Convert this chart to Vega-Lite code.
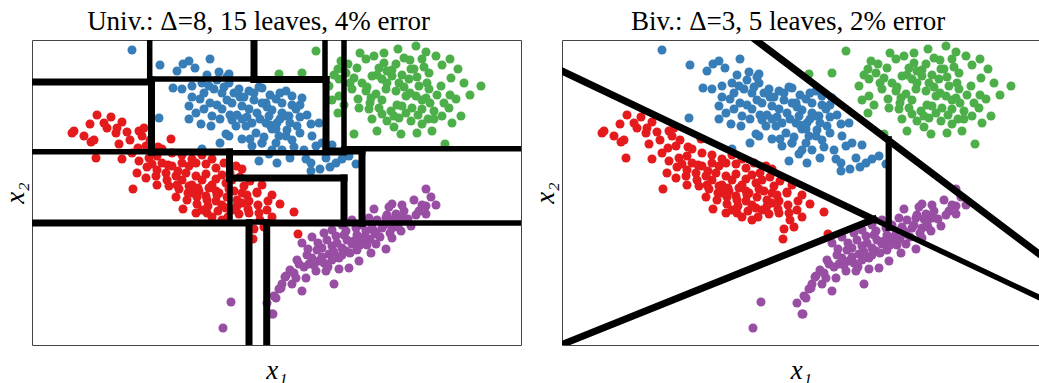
{
  "$schema": "https://vega.github.io/schema/vega-lite/v6.json",
  "padding": {"left": 0, "top": 7, "right": 0, "bottom": 0},
  "background": "white",
  "config": {
    "view": {"stroke": "#444444", "strokeWidth": 1},
    "font": "Liberation Serif",
    "axis": {"labels": false, "ticks": false, "grid": false, "domain": false, "titleFont": "Liberation Serif", "titleFontStyle": "italic", "titleFontWeight": "normal", "titleFontSize": 27, "titleColor": "black"},
    "axisX": {"titlePadding": 12},
    "axisY": {"titlePadding": 3},
    "concat": {"spacing": 8}
  },
  "datasets": {
    "pts": [
      {"cls":"blue","x1":100,"x2":295},{"cls":"blue","x1":128,"x2":280},{"cls":"blue","x1":145,"x2":274},{"cls":"blue","x1":151,"x2":281},{"cls":"blue","x1":157,"x2":284},{"cls":"blue","x1":163,"x2":277},{"cls":"blue","x1":178,"x2":286},{"cls":"blue","x1":187,"x2":273},{"cls":"blue","x1":197,"x2":271},{"cls":"blue","x1":141,"x2":257},{"cls":"blue","x1":150,"x2":256},{"cls":"blue","x1":160,"x2":259},{"cls":"blue","x1":170,"x2":262},{"cls":"blue","x1":177,"x2":259},{"cls":"blue","x1":182,"x2":256},{"cls":"blue","x1":190,"x2":252},{"cls":"blue","x1":197,"x2":262},{"cls":"blue","x1":207,"x2":256},{"cls":"blue","x1":217,"x2":254},{"cls":"blue","x1":227,"x2":258},{"cls":"blue","x1":157,"x2":239},{"cls":"blue","x1":164,"x2":232},{"cls":"blue","x1":172,"x2":236},{"cls":"blue","x1":180,"x2":229},{"cls":"blue","x1":190,"x2":236},{"cls":"blue","x1":200,"x2":242},{"cls":"blue","x1":210,"x2":239},{"cls":"blue","x1":217,"x2":236},{"cls":"blue","x1":230,"x2":242},{"cls":"blue","x1":244,"x2":246},{"cls":"blue","x1":250,"x2":242},{"cls":"blue","x1":157,"x2":226},{"cls":"blue","x1":169,"x2":221},{"cls":"blue","x1":179,"x2":219},{"cls":"blue","x1":194,"x2":211},{"cls":"blue","x1":204,"x2":219},{"cls":"blue","x1":214,"x2":219},{"cls":"blue","x1":224,"x2":212},{"cls":"blue","x1":234,"x2":222},{"cls":"blue","x1":244,"x2":216},{"cls":"blue","x1":254,"x2":229},{"cls":"blue","x1":188,"x2":202},{"cls":"blue","x1":197,"x2":209},{"cls":"blue","x1":210,"x2":206},{"cls":"blue","x1":220,"x2":199},{"cls":"blue","x1":230,"x2":202},{"cls":"blue","x1":244,"x2":202},{"cls":"blue","x1":254,"x2":209},{"cls":"blue","x1":127,"x2":227},{"cls":"blue","x1":170,"x2":196},{"cls":"blue","x1":237,"x2":191},{"cls":"blue","x1":227,"x2":184},{"cls":"blue","x1":245,"x2":182},{"cls":"blue","x1":230,"x2":257},{"cls":"blue","x1":254,"x2":254},{"cls":"blue","x1":270,"x2":247},{"cls":"blue","x1":264,"x2":236},{"cls":"blue","x1":234,"x2":242},{"cls":"blue","x1":237,"x2":229},{"cls":"blue","x1":250,"x2":232},{"cls":"blue","x1":257,"x2":229},{"cls":"blue","x1":279,"x2":221},{"cls":"blue","x1":265,"x2":219},{"cls":"blue","x1":240,"x2":216},{"cls":"blue","x1":247,"x2":209},{"cls":"blue","x1":280,"x2":209},{"cls":"blue","x1":287,"x2":222},{"cls":"blue","x1":230,"x2":202},{"cls":"blue","x1":284,"x2":199},{"cls":"blue","x1":290,"x2":202},{"cls":"blue","x1":258,"x2":187},{"cls":"blue","x1":274,"x2":186},{"cls":"blue","x1":279,"x2":182},{"cls":"blue","x1":294,"x2":187},{"cls":"blue","x1":304,"x2":182},{"cls":"blue","x1":317,"x2":189},{"cls":"blue","x1":279,"x2":174},{"cls":"blue","x1":324,"x2":181},{"cls":"blue","x1":200,"x2":225},{"cls":"blue","x1":215,"x2":228},{"cls":"blue","x1":225,"x2":232},{"cls":"blue","x1":235,"x2":238},{"cls":"blue","x1":222,"x2":245},{"cls":"blue","x1":208,"x2":248},{"cls":"blue","x1":245,"x2":222},{"cls":"blue","x1":232,"x2":208},{"cls":"blue","x1":218,"x2":206},{"cls":"blue","x1":205,"x2":230},{"cls":"blue","x1":240,"x2":235},{"cls":"blue","x1":255,"x2":215},{"cls":"blue","x1":195,"x2":245},{"cls":"blue","x1":185,"x2":240},{"cls":"blue","x1":260,"x2":240},
      {"cls":"blue","x1":192,"x2":258},{"cls":"blue","x1":202,"x2":252},{"cls":"blue","x1":212,"x2":248},{"cls":"blue","x1":222,"x2":252},{"cls":"blue","x1":238,"x2":250},{"cls":"blue","x1":248,"x2":252},{"cls":"blue","x1":260,"x2":249},{"cls":"blue","x1":268,"x2":240},{"cls":"blue","x1":275,"x2":230},{"cls":"blue","x1":268,"x2":228},{"cls":"blue","x1":258,"x2":222},{"cls":"blue","x1":248,"x2":226},{"cls":"blue","x1":238,"x2":220},{"cls":"blue","x1":228,"x2":226},{"cls":"blue","x1":220,"x2":222},{"cls":"blue","x1":210,"x2":226},{"cls":"blue","x1":198,"x2":230},{"cls":"blue","x1":188,"x2":226},{"cls":"blue","x1":178,"x2":242},{"cls":"blue","x1":168,"x2":246},{"cls":"blue","x1":160,"x2":248},{"cls":"blue","x1":172,"x2":252},{"cls":"blue","x1":185,"x2":265},{"cls":"blue","x1":195,"x2":268},{"cls":"blue","x1":175,"x2":270},{"cls":"blue","x1":260,"x2":205},{"cls":"blue","x1":268,"x2":212},{"cls":"blue","x1":272,"x2":195},{"cls":"blue","x1":262,"x2":198},{"cls":"blue","x1":250,"x2":195},{"cls":"blue","x1":240,"x2":195},{"cls":"blue","x1":300,"x2":200},{"cls":"blue","x1":310,"x2":186},{"cls":"blue","x1":298,"x2":178},{"cls":"blue","x1":288,"x2":176},
      {"cls":"green","x1":284,"x2":294},{"cls":"green","x1":384,"x2":299},{"cls":"green","x1":309,"x2":284},{"cls":"green","x1":325,"x2":277},{"cls":"green","x1":334,"x2":286},{"cls":"green","x1":342,"x2":289},{"cls":"green","x1":347,"x2":277},{"cls":"green","x1":355,"x2":274},{"cls":"green","x1":364,"x2":281},{"cls":"green","x1":372,"x2":287},{"cls":"green","x1":379,"x2":276},{"cls":"green","x1":390,"x2":286},{"cls":"green","x1":404,"x2":289},{"cls":"green","x1":418,"x2":286},{"cls":"green","x1":397,"x2":272},{"cls":"green","x1":409,"x2":259},{"cls":"green","x1":419,"x2":267},{"cls":"green","x1":449,"x2":259},{"cls":"green","x1":314,"x2":272},{"cls":"green","x1":307,"x2":266},{"cls":"green","x1":322,"x2":267},{"cls":"green","x1":330,"x2":262},{"cls":"green","x1":340,"x2":269},{"cls":"green","x1":350,"x2":266},{"cls":"green","x1":360,"x2":269},{"cls":"green","x1":367,"x2":262},{"cls":"green","x1":377,"x2":266},{"cls":"green","x1":387,"x2":259},{"cls":"green","x1":397,"x2":256},{"cls":"green","x1":320,"x2":256},{"cls":"green","x1":334,"x2":254},{"cls":"green","x1":344,"x2":251},{"cls":"green","x1":354,"x2":256},{"cls":"green","x1":364,"x2":254},{"cls":"green","x1":374,"x2":249},{"cls":"green","x1":384,"x2":249},{"cls":"green","x1":394,"x2":247},{"cls":"green","x1":307,"x2":249},{"cls":"green","x1":297,"x2":259},{"cls":"green","x1":339,"x2":247},{"cls":"green","x1":424,"x2":246},{"cls":"green","x1":327,"x2":237},{"cls":"green","x1":337,"x2":236},{"cls":"green","x1":347,"x2":237},{"cls":"green","x1":359,"x2":234},{"cls":"green","x1":370,"x2":239},{"cls":"green","x1":380,"x2":237},{"cls":"green","x1":390,"x2":236},{"cls":"green","x1":402,"x2":234},{"cls":"green","x1":417,"x2":237},{"cls":"green","x1":429,"x2":229},{"cls":"green","x1":340,"x2":226},{"cls":"green","x1":355,"x2":224},{"cls":"green","x1":367,"x2":227},{"cls":"green","x1":379,"x2":224},{"cls":"green","x1":390,"x2":221},{"cls":"green","x1":402,"x2":226},{"cls":"green","x1":410,"x2":229},{"cls":"green","x1":306,"x2":232},{"cls":"green","x1":322,"x2":211},{"cls":"green","x1":369,"x2":211},{"cls":"green","x1":385,"x2":212},{"cls":"green","x1":400,"x2":214},{"cls":"green","x1":413,"x2":201},{"cls":"green","x1":247,"x2":271},{"cls":"green","x1":270,"x2":272},{"cls":"green","x1":306,"x2":276},{"cls":"green","x1":345,"x2":270},{"cls":"green","x1":360,"x2":275},{"cls":"green","x1":372,"x2":258},{"cls":"green","x1":385,"x2":268},{"cls":"green","x1":395,"x2":262},{"cls":"green","x1":350,"x2":245},{"cls":"green","x1":365,"x2":240},{"cls":"green","x1":378,"x2":252},{"cls":"green","x1":390,"x2":245},{"cls":"green","x1":405,"x2":250},{"cls":"green","x1":335,"x2":258},{"cls":"green","x1":355,"x2":262},
      {"cls":"green","x1":316,"x2":281},{"cls":"green","x1":328,"x2":292},{"cls":"green","x1":352,"x2":292},{"cls":"green","x1":366,"x2":296},{"cls":"green","x1":394,"x2":293},{"cls":"green","x1":410,"x2":280},{"cls":"green","x1":426,"x2":276},{"cls":"green","x1":432,"x2":262},{"cls":"green","x1":438,"x2":250},{"cls":"green","x1":418,"x2":250},{"cls":"green","x1":412,"x2":242},{"cls":"green","x1":398,"x2":242},{"cls":"green","x1":386,"x2":230},{"cls":"green","x1":374,"x2":232},{"cls":"green","x1":362,"x2":229},{"cls":"green","x1":350,"x2":231},{"cls":"green","x1":338,"x2":242},{"cls":"green","x1":326,"x2":246},{"cls":"green","x1":318,"x2":262},{"cls":"green","x1":312,"x2":240},{"cls":"green","x1":300,"x2":245},{"cls":"green","x1":302,"x2":270},{"cls":"green","x1":392,"x2":278},{"cls":"green","x1":378,"x2":285},{"cls":"green","x1":352,"x2":282},{"cls":"green","x1":370,"x2":270},{"cls":"green","x1":382,"x2":276},{"cls":"green","x1":420,"x2":222},{"cls":"green","x1":396,"x2":226},{"cls":"green","x1":362,"x2":218},{"cls":"green","x1":345,"x2":214},
      {"cls":"red","x1":65,"x2":230},{"cls":"red","x1":79,"x2":228},{"cls":"red","x1":90,"x2":223},{"cls":"red","x1":58,"x2":221},{"cls":"red","x1":75,"x2":217},{"cls":"red","x1":85,"x2":217},{"cls":"red","x1":84,"x2":212},{"cls":"red","x1":40,"x2":212},{"cls":"red","x1":42,"x2":214},{"cls":"red","x1":59,"x2":203},{"cls":"red","x1":62,"x2":205},{"cls":"red","x1":87,"x2":201},{"cls":"red","x1":107,"x2":214},{"cls":"red","x1":112,"x2":217},{"cls":"red","x1":110,"x2":209},{"cls":"red","x1":106,"x2":197},{"cls":"red","x1":114,"x2":199},{"cls":"red","x1":64,"x2":187},{"cls":"red","x1":90,"x2":186},{"cls":"red","x1":100,"x2":192},{"cls":"red","x1":107,"x2":184},{"cls":"red","x1":117,"x2":187},{"cls":"red","x1":125,"x2":189},{"cls":"red","x1":139,"x2":206},{"cls":"red","x1":120,"x2":181},{"cls":"red","x1":130,"x2":182},{"cls":"red","x1":140,"x2":179},{"cls":"red","x1":150,"x2":182},{"cls":"red","x1":157,"x2":179},{"cls":"red","x1":164,"x2":182},{"cls":"red","x1":174,"x2":181},{"cls":"red","x1":184,"x2":177},{"cls":"red","x1":105,"x2":172},{"cls":"red","x1":114,"x2":167},{"cls":"red","x1":124,"x2":169},{"cls":"red","x1":134,"x2":172},{"cls":"red","x1":144,"x2":169},{"cls":"red","x1":154,"x2":172},{"cls":"red","x1":164,"x2":169},{"cls":"red","x1":174,"x2":171},{"cls":"red","x1":184,"x2":166},{"cls":"red","x1":194,"x2":162},{"cls":"red","x1":204,"x2":179},{"cls":"red","x1":210,"x2":176},{"cls":"red","x1":225,"x2":153},{"cls":"red","x1":101,"x2":156},{"cls":"red","x1":137,"x2":159},{"cls":"red","x1":147,"x2":156},{"cls":"red","x1":157,"x2":159},{"cls":"red","x1":167,"x2":154},{"cls":"red","x1":177,"x2":157},{"cls":"red","x1":187,"x2":152},{"cls":"red","x1":197,"x2":156},{"cls":"red","x1":210,"x2":152},{"cls":"red","x1":144,"x2":148},{"cls":"red","x1":151,"x2":136},{"cls":"red","x1":160,"x2":152},{"cls":"red","x1":165,"x2":141},{"cls":"red","x1":164,"x2":132},{"cls":"red","x1":175,"x2":132},{"cls":"red","x1":174,"x2":149},{"cls":"red","x1":184,"x2":154},{"cls":"red","x1":184,"x2":144},{"cls":"red","x1":194,"x2":137},{"cls":"red","x1":202,"x2":154},{"cls":"red","x1":205,"x2":139},{"cls":"red","x1":212,"x2":159},{"cls":"red","x1":217,"x2":144},{"cls":"red","x1":225,"x2":152},{"cls":"red","x1":227,"x2":132},{"cls":"red","x1":217,"x2":132},{"cls":"red","x1":207,"x2":131},{"cls":"red","x1":248,"x2":141},{"cls":"red","x1":222,"x2":116},{"cls":"red","x1":221,"x2":106},{"cls":"red","x1":262,"x2":133},{"cls":"red","x1":266,"x2":111},{"cls":"red","x1":150,"x2":165},{"cls":"red","x1":160,"x2":160},{"cls":"red","x1":170,"x2":165},{"cls":"red","x1":180,"x2":160},{"cls":"red","x1":190,"x2":170},{"cls":"red","x1":200,"x2":165},{"cls":"red","x1":175,"x2":145},{"cls":"red","x1":185,"x2":150},{"cls":"red","x1":195,"x2":148},{"cls":"red","x1":205,"x2":145},{"cls":"red","x1":215,"x2":150},{"cls":"red","x1":190,"x2":140},{"cls":"red","x1":200,"x2":135},{"cls":"red","x1":210,"x2":142},{"cls":"red","x1":155,"x2":145},{"cls":"red","x1":165,"x2":148},{"cls":"red","x1":145,"x2":160},{"cls":"red","x1":135,"x2":165},{"cls":"red","x1":125,"x2":175},{"cls":"red","x1":115,"x2":178},{"cls":"red","x1":190,"x2":125},{"cls":"red","x1":180,"x2":128},{"cls":"red","x1":170,"x2":135},{"cls":"red","x1":125,"x2":160},{"cls":"red","x1":228,"x2":125},{"cls":"red","x1":235,"x2":135},
      {"cls":"red","x1":130,"x2":196},{"cls":"red","x1":140,"x2":192},{"cls":"red","x1":150,"x2":190},{"cls":"red","x1":160,"x2":186},{"cls":"red","x1":170,"x2":190},{"cls":"red","x1":180,"x2":186},{"cls":"red","x1":192,"x2":182},{"cls":"red","x1":198,"x2":172},{"cls":"red","x1":208,"x2":168},{"cls":"red","x1":218,"x2":164},{"cls":"red","x1":230,"x2":160},{"cls":"red","x1":240,"x2":150},{"cls":"red","x1":236,"x2":144},{"cls":"red","x1":226,"x2":140},{"cls":"red","x1":216,"x2":136},{"cls":"red","x1":196,"x2":128},{"cls":"red","x1":186,"x2":134},{"cls":"red","x1":176,"x2":139},{"cls":"red","x1":166,"x2":157},{"cls":"red","x1":156,"x2":152},{"cls":"red","x1":146,"x2":174},{"cls":"red","x1":136,"x2":180},{"cls":"red","x1":126,"x2":198},{"cls":"red","x1":118,"x2":205},{"cls":"red","x1":98,"x2":205},{"cls":"red","x1":95,"x2":213},{"cls":"red","x1":72,"x2":222},{"cls":"red","x1":52,"x2":209},{"cls":"red","x1":232,"x2":118},{"cls":"red","x1":240,"x2":128},
      {"cls":"purple","x1":394,"x2":156},{"cls":"purple","x1":399,"x2":148},{"cls":"purple","x1":394,"x2":139},{"cls":"purple","x1":387,"x2":134},{"cls":"purple","x1":394,"x2":131},{"cls":"purple","x1":360,"x2":141},{"cls":"purple","x1":357,"x2":138},{"cls":"purple","x1":342,"x2":136},{"cls":"purple","x1":364,"x2":131},{"cls":"purple","x1":370,"x2":127},{"cls":"purple","x1":354,"x2":127},{"cls":"purple","x1":379,"x2":119},{"cls":"purple","x1":369,"x2":114},{"cls":"purple","x1":360,"x2":117},{"cls":"purple","x1":337,"x2":127},{"cls":"purple","x1":350,"x2":117},{"cls":"purple","x1":344,"x2":111},{"cls":"purple","x1":334,"x2":114},{"cls":"purple","x1":324,"x2":117},{"cls":"purple","x1":314,"x2":114},{"cls":"purple","x1":304,"x2":109},{"cls":"purple","x1":292,"x2":112},{"cls":"purple","x1":270,"x2":102},{"cls":"purple","x1":354,"x2":96},{"cls":"purple","x1":339,"x2":92},{"cls":"purple","x1":327,"x2":84},{"cls":"purple","x1":330,"x2":104},{"cls":"purple","x1":320,"x2":101},{"cls":"purple","x1":310,"x2":97},{"cls":"purple","x1":300,"x2":99},{"cls":"purple","x1":290,"x2":97},{"cls":"purple","x1":280,"x2":87},{"cls":"purple","x1":287,"x2":84},{"cls":"purple","x1":297,"x2":91},{"cls":"purple","x1":307,"x2":87},{"cls":"purple","x1":317,"x2":77},{"cls":"purple","x1":307,"x2":76},{"cls":"purple","x1":294,"x2":74},{"cls":"purple","x1":277,"x2":81},{"cls":"purple","x1":267,"x2":81},{"cls":"purple","x1":254,"x2":69},{"cls":"purple","x1":264,"x2":67},{"cls":"purple","x1":274,"x2":67},{"cls":"purple","x1":260,"x2":61},{"cls":"purple","x1":270,"x2":54},{"cls":"purple","x1":250,"x2":61},{"cls":"purple","x1":247,"x2":56},{"cls":"purple","x1":242,"x2":49},{"cls":"purple","x1":302,"x2":61},{"cls":"purple","x1":240,"x2":31},{"cls":"purple","x1":284,"x2":74},{"cls":"purple","x1":314,"x2":94},{"cls":"purple","x1":344,"x2":101},{"cls":"purple","x1":360,"x2":107},{"cls":"purple","x1":199,"x2":43},{"cls":"purple","x1":191,"x2":17},{"cls":"purple","x1":253,"x2":68},{"cls":"purple","x1":249,"x2":57},{"cls":"purple","x1":244,"x2":47},{"cls":"purple","x1":241,"x2":31},{"cls":"purple","x1":235,"x2":42},{"cls":"purple","x1":300,"x2":115},{"cls":"purple","x1":310,"x2":120},{"cls":"purple","x1":320,"x2":125},{"cls":"purple","x1":330,"x2":120},{"cls":"purple","x1":340,"x2":118},{"cls":"purple","x1":315,"x2":105},{"cls":"purple","x1":325,"x2":110},{"cls":"purple","x1":305,"x2":102},{"cls":"purple","x1":295,"x2":105},{"cls":"purple","x1":345,"x2":125},{"cls":"purple","x1":355,"x2":130},{"cls":"purple","x1":365,"x2":122},{"cls":"purple","x1":335,"x2":100},{"cls":"purple","x1":285,"x2":95},{"cls":"purple","x1":275,"x2":90},{"cls":"purple","x1":265,"x2":85},{"cls":"purple","x1":290,"x2":88},{"cls":"purple","x1":325,"x2":95},
      {"cls":"purple","x1":258,"x2":75},{"cls":"purple","x1":262,"x2":72},{"cls":"purple","x1":272,"x2":78},{"cls":"purple","x1":282,"x2":80},{"cls":"purple","x1":292,"x2":82},{"cls":"purple","x1":300,"x2":85},{"cls":"purple","x1":310,"x2":90},{"cls":"purple","x1":318,"x2":92},{"cls":"purple","x1":328,"x2":100},{"cls":"purple","x1":338,"x2":106},{"cls":"purple","x1":348,"x2":108},{"cls":"purple","x1":358,"x2":112},{"cls":"purple","x1":366,"x2":118},{"cls":"purple","x1":376,"x2":126},{"cls":"purple","x1":384,"x2":130},{"cls":"purple","x1":390,"x2":140},{"cls":"purple","x1":372,"x2":134},{"cls":"purple","x1":362,"x2":126},{"cls":"purple","x1":352,"x2":120},{"cls":"purple","x1":342,"x2":114},{"cls":"purple","x1":332,"x2":108},{"cls":"purple","x1":322,"x2":104},{"cls":"purple","x1":312,"x2":110},{"cls":"purple","x1":302,"x2":93},{"cls":"purple","x1":296,"x2":78},{"cls":"purple","x1":286,"x2":102},{"cls":"purple","x1":276,"x2":96},{"cls":"purple","x1":280,"x2":108},{"cls":"purple","x1":370,"x2":140},{"cls":"purple","x1":382,"x2":145},{"cls":"purple","x1":404,"x2":140}
    ],
    "univ": [
      {"w":"thick","x1":0,"x2":263,"e1":118.5,"e2":263},
      {"w":"thin","x1":117.7,"x2":305,"e1":117.7,"e2":265},
      {"w":"thick","x1":119.5,"x2":265,"e1":119.5,"e2":193},
      {"w":"thin","x1":119.5,"x2":266,"e1":222,"e2":266},
      {"w":"thick","x1":222,"x2":305,"e1":222,"e2":265.5},
      {"w":"thick","x1":222,"x2":265.5,"e1":294,"e2":265.5},
      {"w":"thin","x1":293,"x2":305,"e1":293,"e2":266},
      {"w":"thick","x1":294,"x2":265.5,"e1":294,"e2":194},
      {"w":"thin","x1":312,"x2":305,"e1":312,"e2":196},
      {"w":"thin","x1":312,"x2":196.3,"e1":489,"e2":196.3},
      {"w":"thick","x1":294,"x2":194,"e1":330,"e2":194},
      {"w":"thick","x1":330,"x2":194,"e1":330,"e2":122},
      {"w":"thin","x1":0,"x2":193.3,"e1":119.5,"e2":193.3},
      {"w":"thick","x1":119.5,"x2":193,"e1":197.5,"e2":193},
      {"w":"thick","x1":197.5,"x2":193,"e1":197.5,"e2":167},
      {"w":"thin","x1":198,"x2":167,"e1":198,"e2":122},
      {"w":"thin","x1":197.5,"x2":192.3,"e1":312,"e2":192.3},
      {"w":"thick","x1":197.5,"x2":167,"e1":312,"e2":167},
      {"w":"thick","x1":312,"x2":167,"e1":312,"e2":122},
      {"w":"thick","x1":0,"x2":122,"e1":217,"e2":122},
      {"w":"thin","x1":217,"x2":123,"e1":234.7,"e2":123},
      {"w":"thick","x1":234.7,"x2":122,"e1":330,"e2":122},
      {"w":"thin","x1":330,"x2":122,"e1":489,"e2":122},
      {"w":"thick","x1":217,"x2":122,"e1":217,"e2":0},
      {"w":"thick","x1":234.7,"x2":122,"e1":234.7,"e2":0}
    ],
    "biv": [
      {"w":"thick","x1":0,"x2":274,"e1":311.7,"e2":125.7},
      {"w":"thick","x1":0,"x2":0.5,"e1":311.7,"e2":125.7},
      {"w":"thick","x1":193.7,"x2":305,"e1":489,"e2":82},
      {"w":"medium","x1":326.7,"x2":205.7,"e1":326.7,"e2":117.3},
      {"w":"thin","x1":311.7,"x2":125.7,"e1":489,"e2":42}
    ]
  },
  "hconcat": [
    {
      "width": 489, "height": 305,
      "title": {"text": "Univ.: Δ=8, 15 leaves, 4% error", "font": "Liberation Serif", "fontSize": 27, "fontWeight": "normal", "color": "black", "offset": 4, "dx": -18},
      "layer": [
        {
          "data": {"name": "pts"},
          "mark": {"type": "circle", "size": 82, "opacity": 1},
          "encoding": {
            "x": {"field": "x1", "type": "quantitative", "scale": {"domain": [0, 489], "nice": false, "zero": false}, "axis": {"title": "x₁"}},
            "y": {"field": "x2", "type": "quantitative", "scale": {"domain": [0, 305], "nice": false, "zero": false}, "axis": {"title": "x₂"}},
            "color": {"field": "cls", "type": "nominal", "scale": {"domain": ["red", "blue", "green", "purple"], "range": ["#e41a1c", "#377eb8", "#4daf4a", "#984ea3"]}, "legend": null}
          }
        },
        {
          "data": {"name": "univ"},
          "mark": {"type": "rule", "color": "black", "strokeCap": "square", "clip": true},
          "encoding": {
            "x": {"field": "x1", "type": "quantitative"},
            "y": {"field": "x2", "type": "quantitative"},
            "x2": {"field": "e1"},
            "y2": {"field": "e2"},
            "strokeWidth": {"field": "w", "type": "nominal", "scale": {"domain": ["thick", "medium", "thin"], "range": [7, 5.5, 2.2]}, "legend": null}
          }
        }
      ]
    },
    {
      "width": 478, "height": 305,
      "title": {"text": "Biv.: Δ=3, 5 leaves, 2% error", "font": "Liberation Serif", "fontSize": 27, "fontWeight": "normal", "color": "black", "offset": 4, "dx": -13},
      "layer": [
        {
          "data": {"name": "pts"},
          "mark": {"type": "circle", "size": 82, "opacity": 1},
          "encoding": {
            "x": {"field": "x1", "type": "quantitative", "scale": {"domain": [0, 478], "nice": false, "zero": false}, "axis": {"title": "x₁"}},
            "y": {"field": "x2", "type": "quantitative", "scale": {"domain": [0, 305], "nice": false, "zero": false}, "axis": {"title": "x₂"}},
            "color": {"field": "cls", "type": "nominal", "scale": {"domain": ["red", "blue", "green", "purple"], "range": ["#e41a1c", "#377eb8", "#4daf4a", "#984ea3"]}, "legend": null}
          }
        },
        {
          "data": {"name": "biv"},
          "mark": {"type": "rule", "color": "black", "strokeCap": "square", "clip": true},
          "encoding": {
            "x": {"field": "x1", "type": "quantitative"},
            "y": {"field": "x2", "type": "quantitative"},
            "x2": {"field": "e1"},
            "y2": {"field": "e2"},
            "strokeWidth": {"field": "w", "type": "nominal", "scale": {"domain": ["thick", "medium", "thin"], "range": [7, 5.5, 2.5]}, "legend": null}
          }
        }
      ]
    }
  ]
}
